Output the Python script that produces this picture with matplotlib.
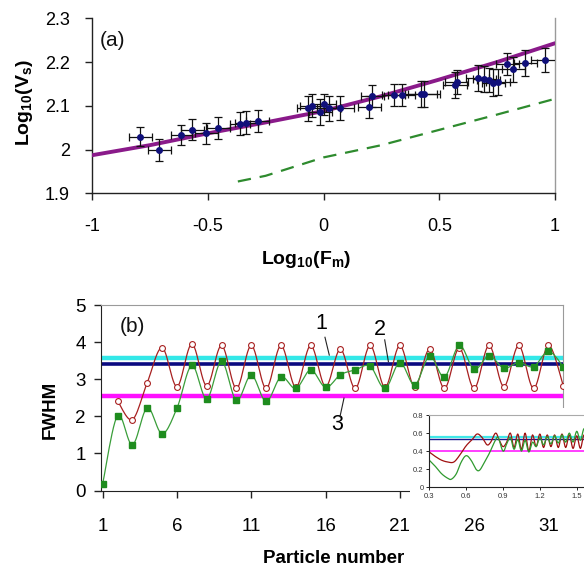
import numpy as np
import matplotlib
matplotlib.use("Agg")
import matplotlib.pyplot as plt
from matplotlib.patches import Rectangle

plt.rcParams['font.family'] = ['Liberation Sans', 'DejaVu Sans']
plt.rcParams['mathtext.fontset'] = 'custom'
plt.rcParams['mathtext.rm'] = 'Liberation Sans'
plt.rcParams['mathtext.bf'] = 'Liberation Sans:bold'
plt.rcParams['mathtext.it'] = 'Liberation Sans:italic'

# ---------------- Panel (a) data ----------------
a_x = [-0.792, -0.710, -0.615, -0.567, -0.506, -0.454, -0.361, -0.333, -0.285,
       -0.066, -0.050, -0.014, 0.002, 0.024, 0.071, 0.198, 0.211, 0.303, 0.337,
       0.420, 0.433, 0.568, 0.575, 0.667, 0.694, 0.713, 0.734, 0.754, 0.794,
       0.820, 0.871, 0.957]
a_y = [2.029, 1.998, 2.033, 2.045, 2.037, 2.050, 2.059, 2.061, 2.065,
       2.094, 2.100, 2.086, 2.103, 2.094, 2.095, 2.098, 2.122, 2.125, 2.125,
       2.127, 2.127, 2.147, 2.154, 2.164, 2.162, 2.159, 2.153, 2.154, 2.195,
       2.183, 2.198, 2.205]
a_xerr = [0.05, 0.05, 0.045, 0.05, 0.05, 0.05, 0.045, 0.05, 0.05,
          0.05, 0.05, 0.05, 0.05, 0.05, 0.06, 0.05, 0.05, 0.05, 0.06,
          0.07, 0.07, 0.05, 0.05, 0.05, 0.05, 0.05, 0.05, 0.05, 0.05,
          0.05, 0.05, 0.06]
a_yerr = [0.022, 0.025, 0.022, 0.024, 0.024, 0.025, 0.026, 0.026, 0.025,
          0.028, 0.026, 0.030, 0.025, 0.028, 0.028, 0.025, 0.025, 0.025, 0.025,
          0.030, 0.030, 0.030, 0.028, 0.030, 0.030, 0.028, 0.030, 0.030, 0.025,
          0.028, 0.030, 0.028]

fit_x = [-1.0, -0.75, -0.5, -0.25, 0.0, 0.25, 0.5, 0.75, 1.0]
fit_y = [1.987, 2.010, 2.037, 2.062, 2.088, 2.122, 2.160, 2.200, 2.243]

theo_x = [-0.37, -0.25, 0.0, 0.25, 0.5, 0.75, 1.0]
theo_y = [1.927, 1.940, 1.982, 2.010, 2.045, 2.080, 2.116]

a_xticks = [-1, -0.5, 0, 0.5, 1]
a_yticks = [1.9, 2.0, 2.1, 2.2, 2.3]

# ---------------- Panel (b) data ----------------
particles = list(range(1, 33))
fwhm_red = [None, 2.42, 1.91, 2.91, 3.85, 2.80, 3.95, 2.82, 3.91, 2.75, 3.91,
            2.75, 3.91, 2.78, 3.91, 2.80, 3.81, 2.75, 3.91, 2.78, 3.91, 2.79,
            3.81, 2.75, 3.84, 2.75, 3.91, 2.80, 3.91, 2.75, 3.91, 2.82]
fwhm_green = [0.18, 2.02, 1.23, 2.23, 1.53, 2.22, 3.37, 2.47, 3.48, 2.43, 3.11,
              2.40, 3.06, 2.75, 3.25, 2.78, 3.12, 3.25, 3.35, 2.75, 3.45, 2.85,
              3.62, 3.06, 3.91, 3.27, 3.63, 3.30, 3.45, 3.34, 3.75, 3.34]
level_1 = 3.58
level_2 = 3.41
level_3 = 2.54
b_xticks = [1, 6, 11, 16, 21, 26, 31]
b_yticks = [0, 1, 2, 3, 4, 5]

# ---------------- Inset data ----------------
ins_red_x = [0.30, 0.35, 0.40, 0.45, 0.50, 0.55, 0.60, 0.65, 0.69, 0.73, 0.77,
             0.80, 0.84, 0.87, 0.90, 0.93, 0.96, 0.99, 1.02, 1.05, 1.08, 1.11,
             1.14, 1.17, 1.20, 1.23, 1.26, 1.29, 1.32, 1.35, 1.38, 1.41, 1.44,
             1.47, 1.50, 1.53, 1.56, 1.59]
ins_red_y = [0.39, 0.34, 0.30, 0.28, 0.28, 0.36, 0.46, 0.53, 0.59, 0.55, 0.47,
             0.50, 0.60, 0.52, 0.45, 0.50, 0.60, 0.44, 0.59, 0.42, 0.60, 0.40,
             0.58, 0.45, 0.59, 0.44, 0.58, 0.45, 0.58, 0.44, 0.59, 0.44, 0.58,
             0.43, 0.57, 0.43, 0.58, 0.42]
ins_green_x = [0.30, 0.35, 0.40, 0.45, 0.48, 0.52, 0.56, 0.60, 0.64, 0.68, 0.71,
               0.75, 0.79, 0.83, 0.86, 0.90, 0.93, 0.96, 0.99, 1.02, 1.05, 1.08,
               1.11, 1.14, 1.17, 1.20, 1.23, 1.26, 1.29, 1.32, 1.35, 1.38, 1.41,
               1.44, 1.47, 1.50, 1.53, 1.56, 1.59]
ins_green_y = [0.30, 0.23, 0.15, 0.10, 0.09, 0.15, 0.28, 0.35, 0.30, 0.20, 0.19,
               0.28, 0.38, 0.50, 0.55, 0.40, 0.48, 0.55, 0.42, 0.53, 0.40, 0.52,
               0.39, 0.50, 0.45, 0.55, 0.47, 0.56, 0.48, 0.57, 0.49, 0.58, 0.50,
               0.60, 0.50, 0.62, 0.52, 0.65, 0.55]
ins_level_1 = 0.553
ins_level_2 = 0.532
ins_level_3 = 0.40
ins_xticks = [0.3, 0.6, 0.9, 1.2, 1.5]
ins_yticks = [0, 0.2, 0.4, 0.6, 0.8]


def smooth(xs, ys, n=12):
    """Catmull-Rom style smoothing (like Excel's smoothed line) for drawing."""
    xs = np.asarray(xs, float)
    ys = np.asarray(ys, float)
    P = np.column_stack([xs, ys])
    P = np.vstack([P[0], P, P[-1]])
    out = []
    t = np.linspace(0, 1, n, endpoint=False)
    for i in range(1, len(P) - 2):
        p0, p1, p2, p3 = P[i - 1], P[i], P[i + 1], P[i + 2]
        t2, t3 = t * t, t * t * t
        seg = 0.5 * ((2 * p1)[None, :] + (-p0 + p2)[None, :] * t[:, None]
                     + (2 * p0 - 5 * p1 + 4 * p2 - p3)[None, :] * t2[:, None]
                     + (-p0 + 3 * p1 - 3 * p2 + p3)[None, :] * t3[:, None])
        out.append(seg)
    out.append(P[-2][None, :])
    out = np.vstack(out)
    return out[:, 0], out[:, 1]


W, H = 584, 566
fig = plt.figure(figsize=(W / 100, H / 100), dpi=100)
fig.patch.set_facecolor('white')

def frac(l, t, r, b):
    return [l / W, 1 - b / H, (r - l) / W, (b - t) / H]

dark = '#222222'
grayspine = '#9a9a9a'

# ---------------- Panel (a) ----------------
ax1 = fig.add_axes(frac(92, 18.3, 555, 193.3))
ax1.plot(fit_x, fit_y, color='#8a1a8a', lw=2.8, solid_capstyle='round', zorder=3)
ax1.plot(theo_x, theo_y, color='#2e8b2e', lw=1.6, dashes=(6, 4), zorder=2)
ax1.errorbar(a_x, a_y, xerr=a_xerr, yerr=a_yerr, fmt='o', ms=4,
             mfc='#10107a', mec='#10107a', ecolor='#111111', elinewidth=0.9,
             capsize=2.6, capthick=0.9, zorder=4)
ax1.set_xlim(-1, 1)
ax1.set_ylim(1.9, 2.3)
ax1.set_xticks(a_xticks)
ax1.set_yticks(a_yticks)
ax1.set_xticklabels(['{:g}'.format(v) for v in a_xticks])
ax1.set_yticklabels(['{:g}'.format(v) for v in a_yticks])
ax1.tick_params(axis='x', direction='out', length=5, width=1, color=dark,
                labelsize=13, pad=13)
ax1.tick_params(axis='y', direction='out', length=5, width=1, color=dark,
                labelsize=13, pad=11)
ax1.spines['top'].set_visible(False)
ax1.spines['right'].set_color(grayspine)
ax1.spines['left'].set_color(dark)
ax1.spines['bottom'].set_color(dark)
for s in ax1.spines.values():
    s.set_linewidth(1.0)
ax1.set_xlabel(r'Log$_{\mathbf{10}}$(F$_{\mathbf{m}}$)', fontsize=14,
               fontweight='bold')
ax1.xaxis.set_label_coords(0.462, -0.381)
ax1.xaxis.label.set_va('center')
ax1.set_ylabel(r'Log$_{\mathbf{10}}$(V$_{\mathbf{s}}$)', fontsize=14,
               fontweight='bold')
ax1.yaxis.set_label_coords(-0.145, 0.52)
ax1.yaxis.label.set_va('center')
ax1.text(0.045, 0.875, '(a)', transform=ax1.transAxes, fontsize=15,
         ha='center', va='center', color='#111111')

# ---------------- Panel (b) ----------------
ax2 = fig.add_axes(frac(101.2, 305, 563.3, 490.5))
ax2.axhline(level_1, color='#33e8e8', lw=3.2, zorder=2)
ax2.axhline(level_2, color='#0a0a80', lw=2.6, zorder=2)
ax2.axhline(level_3, color='#ff10ff', lw=3.2, zorder=2)

rx = [p for p, v in zip(particles, fwhm_red) if v is not None]
ry = [v for v in fwhm_red if v is not None]
sx, sy = smooth(rx, ry)
ax2.plot(sx, sy, color='#a82020', lw=0.9, zorder=3)
ax2.plot(rx, ry, 'o', ms=4.2, mfc='white', mec='#a82020', mew=0.8, zorder=4)

gx, gy = smooth(particles, fwhm_green)
ax2.plot(gx, gy, color='#3a9e3a', lw=0.9, zorder=3)
ax2.plot(particles, fwhm_green, 's', ms=4.2, mfc='#1e8c1e', mec='#1e8c1e',
         zorder=4)

ax2.set_xlim(0.9, 32.0)
ax2.set_ylim(0, 5)
ax2.set_xticks(b_xticks)
ax2.set_yticks(b_yticks)
ax2.tick_params(axis='x', direction='out', length=5, width=1, color=dark,
                labelsize=13.5, pad=15)
ax2.tick_params(axis='y', direction='out', length=5, width=1, color=dark,
                labelsize=13.5, pad=6)
ax2.spines['top'].set_color(grayspine)
ax2.spines['right'].set_color(grayspine)
ax2.spines['left'].set_color(dark)
ax2.spines['bottom'].set_color(dark)
ax2.set_xlabel('Particle number', fontsize=13.5, fontweight='bold')
ax2.xaxis.set_label_coords(0.502, -0.365)
ax2.xaxis.label.set_va('center')
ax2.set_ylabel('FWHM', fontsize=13.5, fontweight='bold')
ax2.yaxis.set_label_coords(-0.111, 0.434)
ax2.yaxis.label.set_va('center')
ax2.text(2.97, 4.41, '(b)', fontsize=15, ha='center', va='center',
         color='#111111')

# numbered callouts
ax2.text(15.69, 4.51, '1', fontsize=15.5, ha='center', va='center')
ax2.plot([15.96, 16.25], [4.13, 3.65], color=dark, lw=0.8, zorder=5)
ax2.text(19.65, 4.33, '2', fontsize=15.5, ha='center', va='center')
ax2.plot([19.98, 20.23], [4.06, 3.47], color=dark, lw=0.8, zorder=5)
ax2.text(16.75, 1.77, '3', fontsize=15.5, ha='center', va='center')
ax2.plot([16.97, 17.24], [1.99, 2.49], color=dark, lw=0.8, zorder=5)

# white area behind the inset
fig.patches.append(Rectangle((410 / W, 1 - 505 / H), 1 - 410 / W, (505 - 408) / H,
                             transform=fig.transFigure, facecolor='white',
                             edgecolor='none', zorder=1))

# ---------------- Inset ----------------
ax3 = fig.add_axes(frac(429.3, 415, 589.0, 487.3))
ax3.set_zorder(2)
ax3.axhline(ins_level_1, color='#40e8e8', lw=1.6)
ax3.axhline(ins_level_2, color='#1a1a90', lw=1.0)
ax3.axhline(ins_level_3, color='#ff30ff', lw=1.3)
ix, iy = smooth(ins_red_x, ins_red_y, n=6)
ax3.plot(ix, iy, color='#a01010', lw=0.9)
jx, jy = smooth(ins_green_x, ins_green_y, n=6)
ax3.plot(jx, jy, color='#2f9a2f', lw=0.9)
ax3.set_xlim(0.3, 1.6)
ax3.set_ylim(0, 0.8)
ax3.set_xticks(ins_xticks)
ax3.set_yticks(ins_yticks)
ax3.set_xticklabels(['{:g}'.format(v) for v in ins_xticks])
ax3.set_yticklabels(['{:g}'.format(v) for v in ins_yticks])
ax3.tick_params(direction='out', length=2, width=0.7, color=dark,
                labelsize=5.5, pad=2, labelcolor='#333333')
ax3.spines['top'].set_color('#aaaaaa')
ax3.spines['right'].set_visible(False)
for s in ['left', 'bottom']:
    ax3.spines[s].set_color(dark)
    ax3.spines[s].set_linewidth(0.8)
ax3.spines['top'].set_linewidth(0.8)

fig.savefig('out.png', dpi=100, facecolor='white')
